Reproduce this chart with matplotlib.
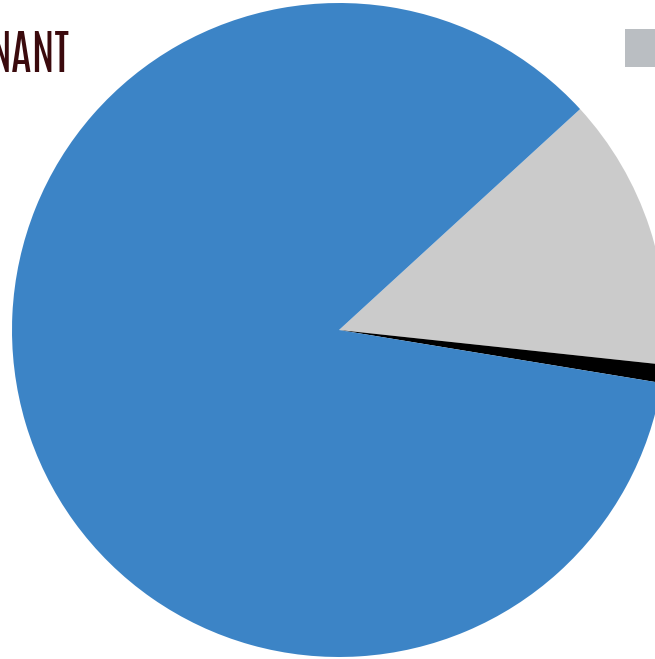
import matplotlib
matplotlib.use("Agg")
import matplotlib.pyplot as plt
from matplotlib.patches import Rectangle

# pie shares (percent)
labels = ["Other", "Minor", "Dominant"]
shares = [13.5, 0.9, 85.6]
colors = ["#cbcbcb", "#000000", "#3c84c6"]

title_text = "NANT"
legend_color = "#babec2"

W, H = 655, 659
fig = plt.figure(figsize=(W / 100, H / 100), dpi=100)
ax = fig.add_axes([0, 0, 1, 1])

ax.pie(shares, colors=colors, startangle=42.5, counterclock=False,
       center=(339, H - 330), radius=327, frame=True,
       wedgeprops=dict(linewidth=0))
ax.set_xlim(0, W)
ax.set_ylim(0, H)
ax.set_aspect("equal")
ax.axis("off")

# legend swatch, its label lies outside the crop
ax.add_patch(Rectangle((625, H - 67), 40, 38, facecolor=legend_color,
                       edgecolor="none", clip_on=False))

fig.text(70 / W, 1 - 72 / H, title_text, ha="right", va="baseline",
         fontsize=33.5, color="#3b0a0d",
         family=["Antonio", "Oswald", "DejaVu Sans"])

fig.savefig("out.png", dpi=100)
